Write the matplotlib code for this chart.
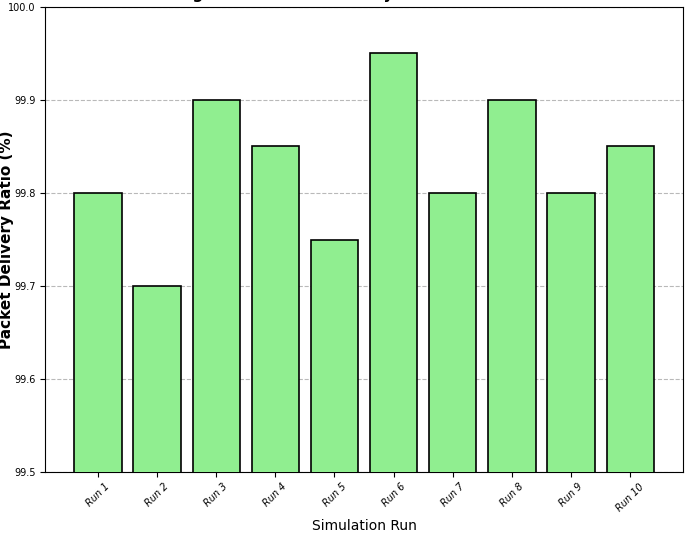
import matplotlib
matplotlib.use("Agg")
import matplotlib.pyplot as plt

# data
runs = ["Run 1", "Run 2", "Run 3", "Run 4", "Run 5",
        "Run 6", "Run 7", "Run 8", "Run 9", "Run 10"]
pdr = [99.8, 99.7, 99.9, 99.85, 99.75, 99.95, 99.8, 99.9, 99.8, 99.85]
yticks = [99.5, 99.6, 99.7, 99.8, 99.9, 100.0]

fig = plt.figure(figsize=(6.85, 5.33), dpi=100)
ax = fig.add_axes([0.066, 0.1144, 0.931, 0.8725])

ax.bar(runs, pdr, color="lightgreen", edgecolor="black", linewidth=1.2, zorder=3)

ax.set_ylim(99.5, 100.0)
ax.set_yticks(yticks)
ax.set_yticklabels(["%.1f" % v for v in yticks], fontsize=7)
ax.grid(axis="y", linestyle="--", color="gray", alpha=0.55, linewidth=0.8, zorder=0)

for lbl in ax.get_xticklabels():
    lbl.set_rotation(45)
    lbl.set_fontstyle("italic")
    lbl.set_fontsize(7)

ax.set_xlabel("Simulation Run", fontsize=10)
ax.set_ylabel("Packet Delivery Ratio (%)", fontsize=11, fontweight="bold")
ax.yaxis.set_label_coords(-0.049, 0.5)
ax.set_title("Figure 6: Packet Delivery Ratio Distribution", fontsize=11, fontweight="bold")

fig.savefig("out.png", dpi=100)
